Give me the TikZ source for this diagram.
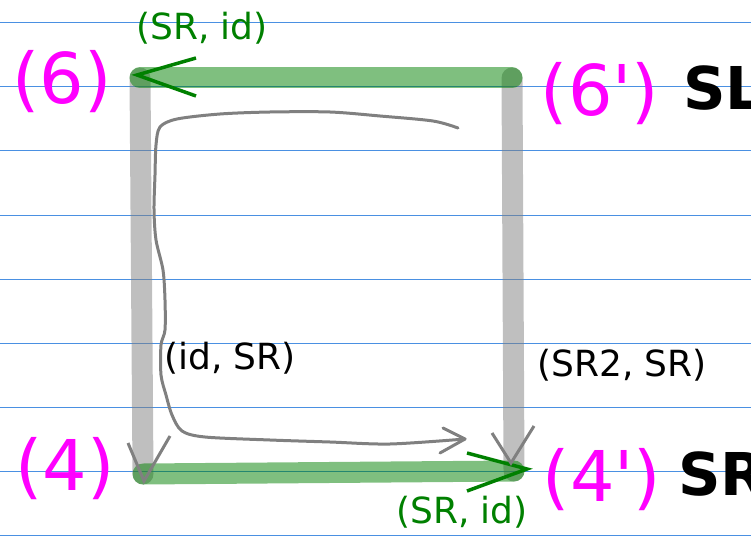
\documentclass[tikz,border=0pt]{standalone}
\usepackage{fontspec}
\setmainfont{DejaVu Sans}
\definecolor{ruleblue}{RGB}{74,144,226}
\definecolor{cornermag}{RGB}{255,0,255}
\definecolor{mapgreen}{RGB}{0,128,0}

\begin{document}
\begin{tikzpicture}[x=1pt,y=-1pt]
  \useasboundingbox (0,0) rectangle (751,540);

  % Ruled paper
  \foreach \y in {23,87,...,535}
    \draw[ruleblue, line width=1pt] (0,\y) -- (751,\y);

  % Corners of the square
  \coordinate (c6) at (140,78);
  \coordinate (c6p) at (512,78);
  \coordinate (c4) at (143,474);
  \coordinate (c4p) at (514,471);

  % Gray sides
  \draw[gray, opacity=0.5, line width=21pt, line cap=round] (c6) -- (c4);
  \draw[gray, opacity=0.5, line width=21pt, line cap=round] (c6p) -- (c4p);

  % Green sides
  \draw[mapgreen, opacity=0.5, line width=21pt, line cap=round] (c6p) -- (c6);
  \draw[mapgreen, opacity=0.5, line width=21pt, line cap=round] (c4) -- (c4p);

  % Arrow heads drawn by hand
  \draw[mapgreen, line width=3.5pt] (196,58) -- (137,75) -- (196,96);
  \draw[mapgreen, line width=3.5pt] (467,453) -- (527,469) -- (467,491);
  \draw[gray, line width=3pt] (128,443) -- (144,481) -- (170,436);
  \draw[gray, line width=3pt] (492,433) -- (511,463) -- (534,426);

  % The path round the square
  \draw[gray, line width=3pt, line cap=round, line join=round]
    plot[smooth, tension=0.5] coordinates {(458,128) (433,121) (380,116) (330,112)
      (270,112) (220,114) (177,119) (160,127) (156,145) (155,175) (154,210)
      (156,240) (163,270) (165,300) (165,330) (161,345) (161,375) (166,395)
      (172,415) (182,431) (205,437) (270,440) (330,442) (390,444) (465,439)};
  \draw[gray, line width=3pt, line cap=round, line join=round]
    (443,428) -- (465,439) -- (440,453);

  % Corner labels
  \node[cornermag, font=\fontsize{70}{74}\selectfont] (l6) at (62,82) {(6)};
  \node[cornermag, font=\fontsize{70}{74}\selectfont] (l6p) at (600,94) {(6\textquotesingle)};
  \node[cornermag, font=\fontsize{70}{74}\selectfont] (l4) at (65,469) {(4)};
  \node[cornermag, font=\fontsize{70}{74}\selectfont] (l4p) at (602,480) {(4\textquotesingle)};
  \node[anchor=base west, inner sep=0pt, font=\fontsize{59}{64}\selectfont\bfseries] (sl) at (683,110) {SL};
  \node[anchor=base west, inner sep=0pt, font=\fontsize{59}{64}\selectfont\bfseries] (sr) at (678,495) {SR};

  % Edge labels
  \node[mapgreen, font=\fontsize{36}{40}\selectfont] (top) at (202,28) {(SR, id)};
  \node[mapgreen, font=\fontsize{36}{40}\selectfont] (bottom) at (462,512) {(SR, id)};
  \node[font=\fontsize{36}{40}\selectfont] (left) at (230,358) {(id, SR)};
  \node[font=\fontsize{36}{40}\selectfont] (right) at (622,365) {(SR2, SR)};
\end{tikzpicture}
\end{document}
